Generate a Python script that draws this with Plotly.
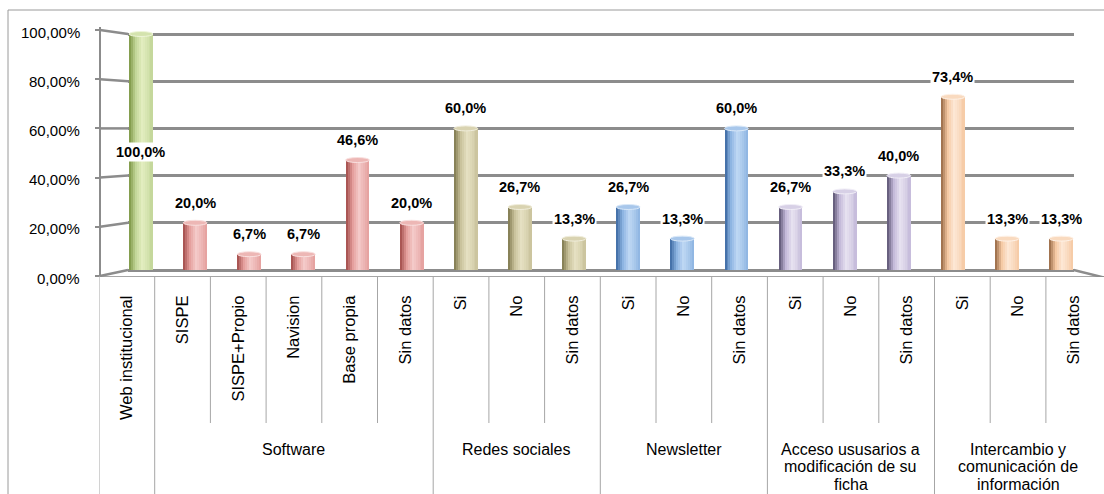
import plotly.graph_objects as go

# ---- data -------------------------------------------------------------
categories = ["Web institucional", "SISPE", "SISPE+Propio", "Navision", "Base propia",
              "Sin datos", "Si", "No", "Sin datos", "Si", "No", "Sin datos",
              "Si", "No", "Sin datos", "Si", "No", "Sin datos"]
group_labels = ["", "Software", "Redes sociales", "Newsletter",
                "Acceso ususarios a<br>modificación de su<br>ficha",
                "Intercambio y<br>comunicación de<br>información"]
group_sizes = [1, 5, 3, 3, 3, 3]
values = [100.0, 20.0, 6.7, 6.7, 46.6, 20.0, 60.0, 26.7, 13.3,
          26.7, 13.3, 60.0, 26.7, 33.3, 40.0, 73.4, 13.3, 13.3]
y_ticks = [0, 20, 40, 60, 80, 100]
y_tick_text = [f"{v:.2f}".replace(".", ",") + "%" for v in y_ticks]

# ---- styling ----------------------------------------------------------
W, H = 1104, 494
FONT = "Liberation Sans, Arial, sans-serif"
GRID = "#8c8c8c"
LINE = "#a6a6a6"

# (edge shadow, body, highlight) for each group
palettes = [
    ("#7a9442", "#c2d698", "#e3eec0"),
    ("#a04a48", "#e49e9c", "#f5cbca"),
    ("#7d774c", "#c9c29b", "#e6e1c3"),
    ("#3a67a0", "#8cb3e1", "#bfd8f4"),
    ("#58516f", "#c3b9d9", "#e7e2f1"),
    ("#936541", "#f5c9a3", "#fde8d6"),
]


def _rgb(h):
    h = h.lstrip("#")
    return tuple(int(h[i:i + 2], 16) for i in (0, 2, 4))


def mix(a, b, t):
    ra, rb = _rgb(a), _rgb(b)
    return "#%02x%02x%02x" % tuple(round(x + (y - x) * t) for x, y in zip(ra, rb))


def shade(pal, t):
    dark, mid, light = pal
    keys = [(0.0, dark), (0.28, mid), (0.55, light), (0.8, mix(mid, light, 0.5)), (1.0, mid)]
    for (t0, c0), (t1, c1) in zip(keys, keys[1:]):
        if t <= t1:
            return mix(c0, c1, (t - t0) / (t1 - t0))
    return keys[-1][1]


group_of_bar = [g for g, n in enumerate(group_sizes) for _ in range(n)]
bar_pal = [palettes[g] for g in group_of_bar]
n = len(values)
xs = list(range(n))

# ---- axis geometry (pixels) -------------------------------------------
# bars / back wall
BAR_X0, BAR_STEP = 141.0, 54.13
Y0_PX, PX_PER = 270.0, 2.36
Y_RANGE = [-3, 103]
bot_px = Y0_PX - Y_RANGE[0] * PX_PER
top_px = Y0_PX - Y_RANGE[1] * PX_PER
x_range = [-0.24, 17.23]
x_dom = [(BAR_X0 + x_range[0] * BAR_STEP) / W, (BAR_X0 + x_range[1] * BAR_STEP) / W]
y_dom = [(H - bot_px) / H, (H - top_px) / H]

# front (labelled) value axis
FRONT_Y0, FRONT_PER, FRONT_X = 276.0, 2.46, 100.0
y2_range = [(FRONT_Y0 - bot_px) / FRONT_PER, (FRONT_Y0 - top_px) / FRONT_PER]
LABEL_RIGHT = 82.0

# category table under the floor
TABLE_X0, TABLE_STEP, TABLE_TOP = 99.0, 55.7, 276.0
x2_range = [-0.5, -0.5 + (W - TABLE_X0) / TABLE_STEP]
table_top = (H - TABLE_TOP) / H


def front_to_main(v):
    f = (v - y2_range[0]) / (y2_range[1] - y2_range[0])
    return Y_RANGE[0] + f * (Y_RANGE[1] - Y_RANGE[0])


fig = go.Figure()

# cylinder bodies: narrow overlapping stripes give the shaded look
BAR_W = 0.44
N_STRIPES = 12
step = BAR_W / N_STRIPES
for j in range(N_STRIPES):
    t = (j + 0.5) / N_STRIPES
    fig.add_trace(go.Bar(
        x=xs, y=values,
        width=step * (1.6 if j < N_STRIPES - 1 else 1.0),
        offset=-BAR_W / 2 + j * step,
        marker=dict(color=[shade(p, t) for p in bar_pal], line=dict(width=0)),
        hoverinfo="skip", showlegend=False,
    ))

# helper traces that register the extra axes
fig.add_trace(go.Scatter(x=[0], y=[0], yaxis="y2", mode="markers",
                         marker=dict(opacity=0), hoverinfo="skip", showlegend=False))
fig.add_trace(go.Scatter(x=xs, y=[0.5] * n, xaxis="x2", yaxis="y3", mode="markers",
                         marker=dict(opacity=0), hoverinfo="skip", showlegend=False))

shapes = []
# cylinder tops
CAP = 1.05
for i, v in enumerate(values):
    dark, mid, light = bar_pal[i]
    shapes.append(dict(type="circle", xref="x", yref="y",
                       x0=i - BAR_W / 2, x1=i + BAR_W / 2, y0=v - CAP, y1=v + CAP,
                       fillcolor=mix(mid, light, 0.55),
                       line=dict(color=mix(light, "#ffffff", 0.4), width=1)))

# perspective connectors from the front axis to the back wall
for v in y_ticks:
    shapes.append(dict(type="line", xref="paper", yref="y",
                       x0=FRONT_X / W, x1=x_dom[0], y0=front_to_main(v), y1=v,
                       line=dict(color=GRID, width=2.5)))
# right edge of the floor
shapes.append(dict(type="line", xref="paper", yref="y",
                   x0=x_dom[1], x1=1.0, y0=0, y1=front_to_main(-0.6),
                   line=dict(color=GRID, width=2.5)))

# table dividers
inner_bottom = (H - 423) / H
edges = [0]
for s in group_sizes:
    edges.append(edges[-1] + s)
for k in range(n):
    xb = k - 0.5
    full = k in edges
    shapes.append(dict(type="line", xref="x2", yref="paper",
                       x0=xb, x1=xb, y0=table_top, y1=-0.02 if full else inner_bottom,
                       line=dict(color=LINE, width=1)))

# outer chart frame
shapes.append(dict(type="rect", xref="paper", yref="paper",
                   x0=8 / W, x1=1.02, y0=-0.02, y1=(H - 10) / H,
                   line=dict(color="#9a9a9a", width=1), fillcolor="rgba(0,0,0,0)",
                   layer="below"))

annotations = []
# value-axis labels, placed on the front axis scale
for v, txt in zip(y_ticks, y_tick_text):
    annotations.append(dict(
        x=LABEL_RIGHT / W, y=v, xref="paper", yref="y2",
        text=txt, showarrow=False, xanchor="right", yanchor="middle", yshift=-2,
        font=dict(family=FONT, size=15, color="#000000"),
    ))

# value labels
for i, v in enumerate(values):
    inside = v >= 90
    annotations.append(dict(
        x=i, y=v / 2 if inside else v, xref="x", yref="y",
        text=f"{v:.1f}".replace(".", ",") + "%",
        showarrow=False, yanchor="middle", yshift=0 if inside else 20,
        bgcolor="#ffffff", borderpad=1,
        font=dict(family=FONT, size=14.5, color="#000000", weight="bold"),
    ))

# group labels, one annotation per line for tight line spacing
GROUP_Y, GROUP_LEAD = 449, 17.5
for g, (label, s) in enumerate(zip(group_labels, group_sizes)):
    if not label:
        continue
    centre = edges[g] + (s - 1) / 2
    for k, line_text in enumerate(label.split("<br>")):
        annotations.append(dict(
            x=centre, y=(H - GROUP_Y - k * GROUP_LEAD) / H, xref="x2", yref="paper",
            text=line_text, showarrow=False, yanchor="middle", align="center",
            font=dict(family=FONT, size=16, color="#000000"),
        ))

fig.update_layout(
    width=W, height=H,
    margin=dict(l=0, r=0, t=0, b=0),
    paper_bgcolor="#ffffff", plot_bgcolor="rgba(0,0,0,0)",
    barmode="overlay", bargap=0,
    font=dict(family=FONT, size=15, color="#000000"),
    xaxis=dict(domain=x_dom, range=x_range, anchor="y",
               showgrid=False, zeroline=False, showticklabels=False, ticks="",
               showline=False, fixedrange=True),
    yaxis=dict(domain=y_dom, range=Y_RANGE, tickvals=y_ticks,
               showgrid=True, gridcolor=GRID, gridwidth=3,
               zeroline=False, showticklabels=False, ticks="", showline=False),
    yaxis2=dict(domain=y_dom, anchor="free", position=FRONT_X / W, side="left",
                range=y2_range, tickmode="array", tickvals=y_ticks,
                showticklabels=False,
                showgrid=False, zeroline=False, showline=True, linecolor=GRID, linewidth=2,
                ticks="outside", ticklen=4, tickcolor=GRID, tickwidth=2),
    xaxis2=dict(domain=[TABLE_X0 / W, 1.0], range=x2_range, anchor="free",
                position=table_top, tickvals=xs, ticktext=categories, tickangle=-90,
                showgrid=False, zeroline=False, showline=True, linecolor=LINE, linewidth=1,
                ticks="", ticklabelstandoff=12,
                tickfont=dict(family=FONT, size=16.5, color="#000000")),
    yaxis3=dict(domain=[0, table_top], range=[0, 1], visible=False),
    shapes=shapes,
    annotations=annotations,
    showlegend=False,
)

fig.write_html("out.html")
